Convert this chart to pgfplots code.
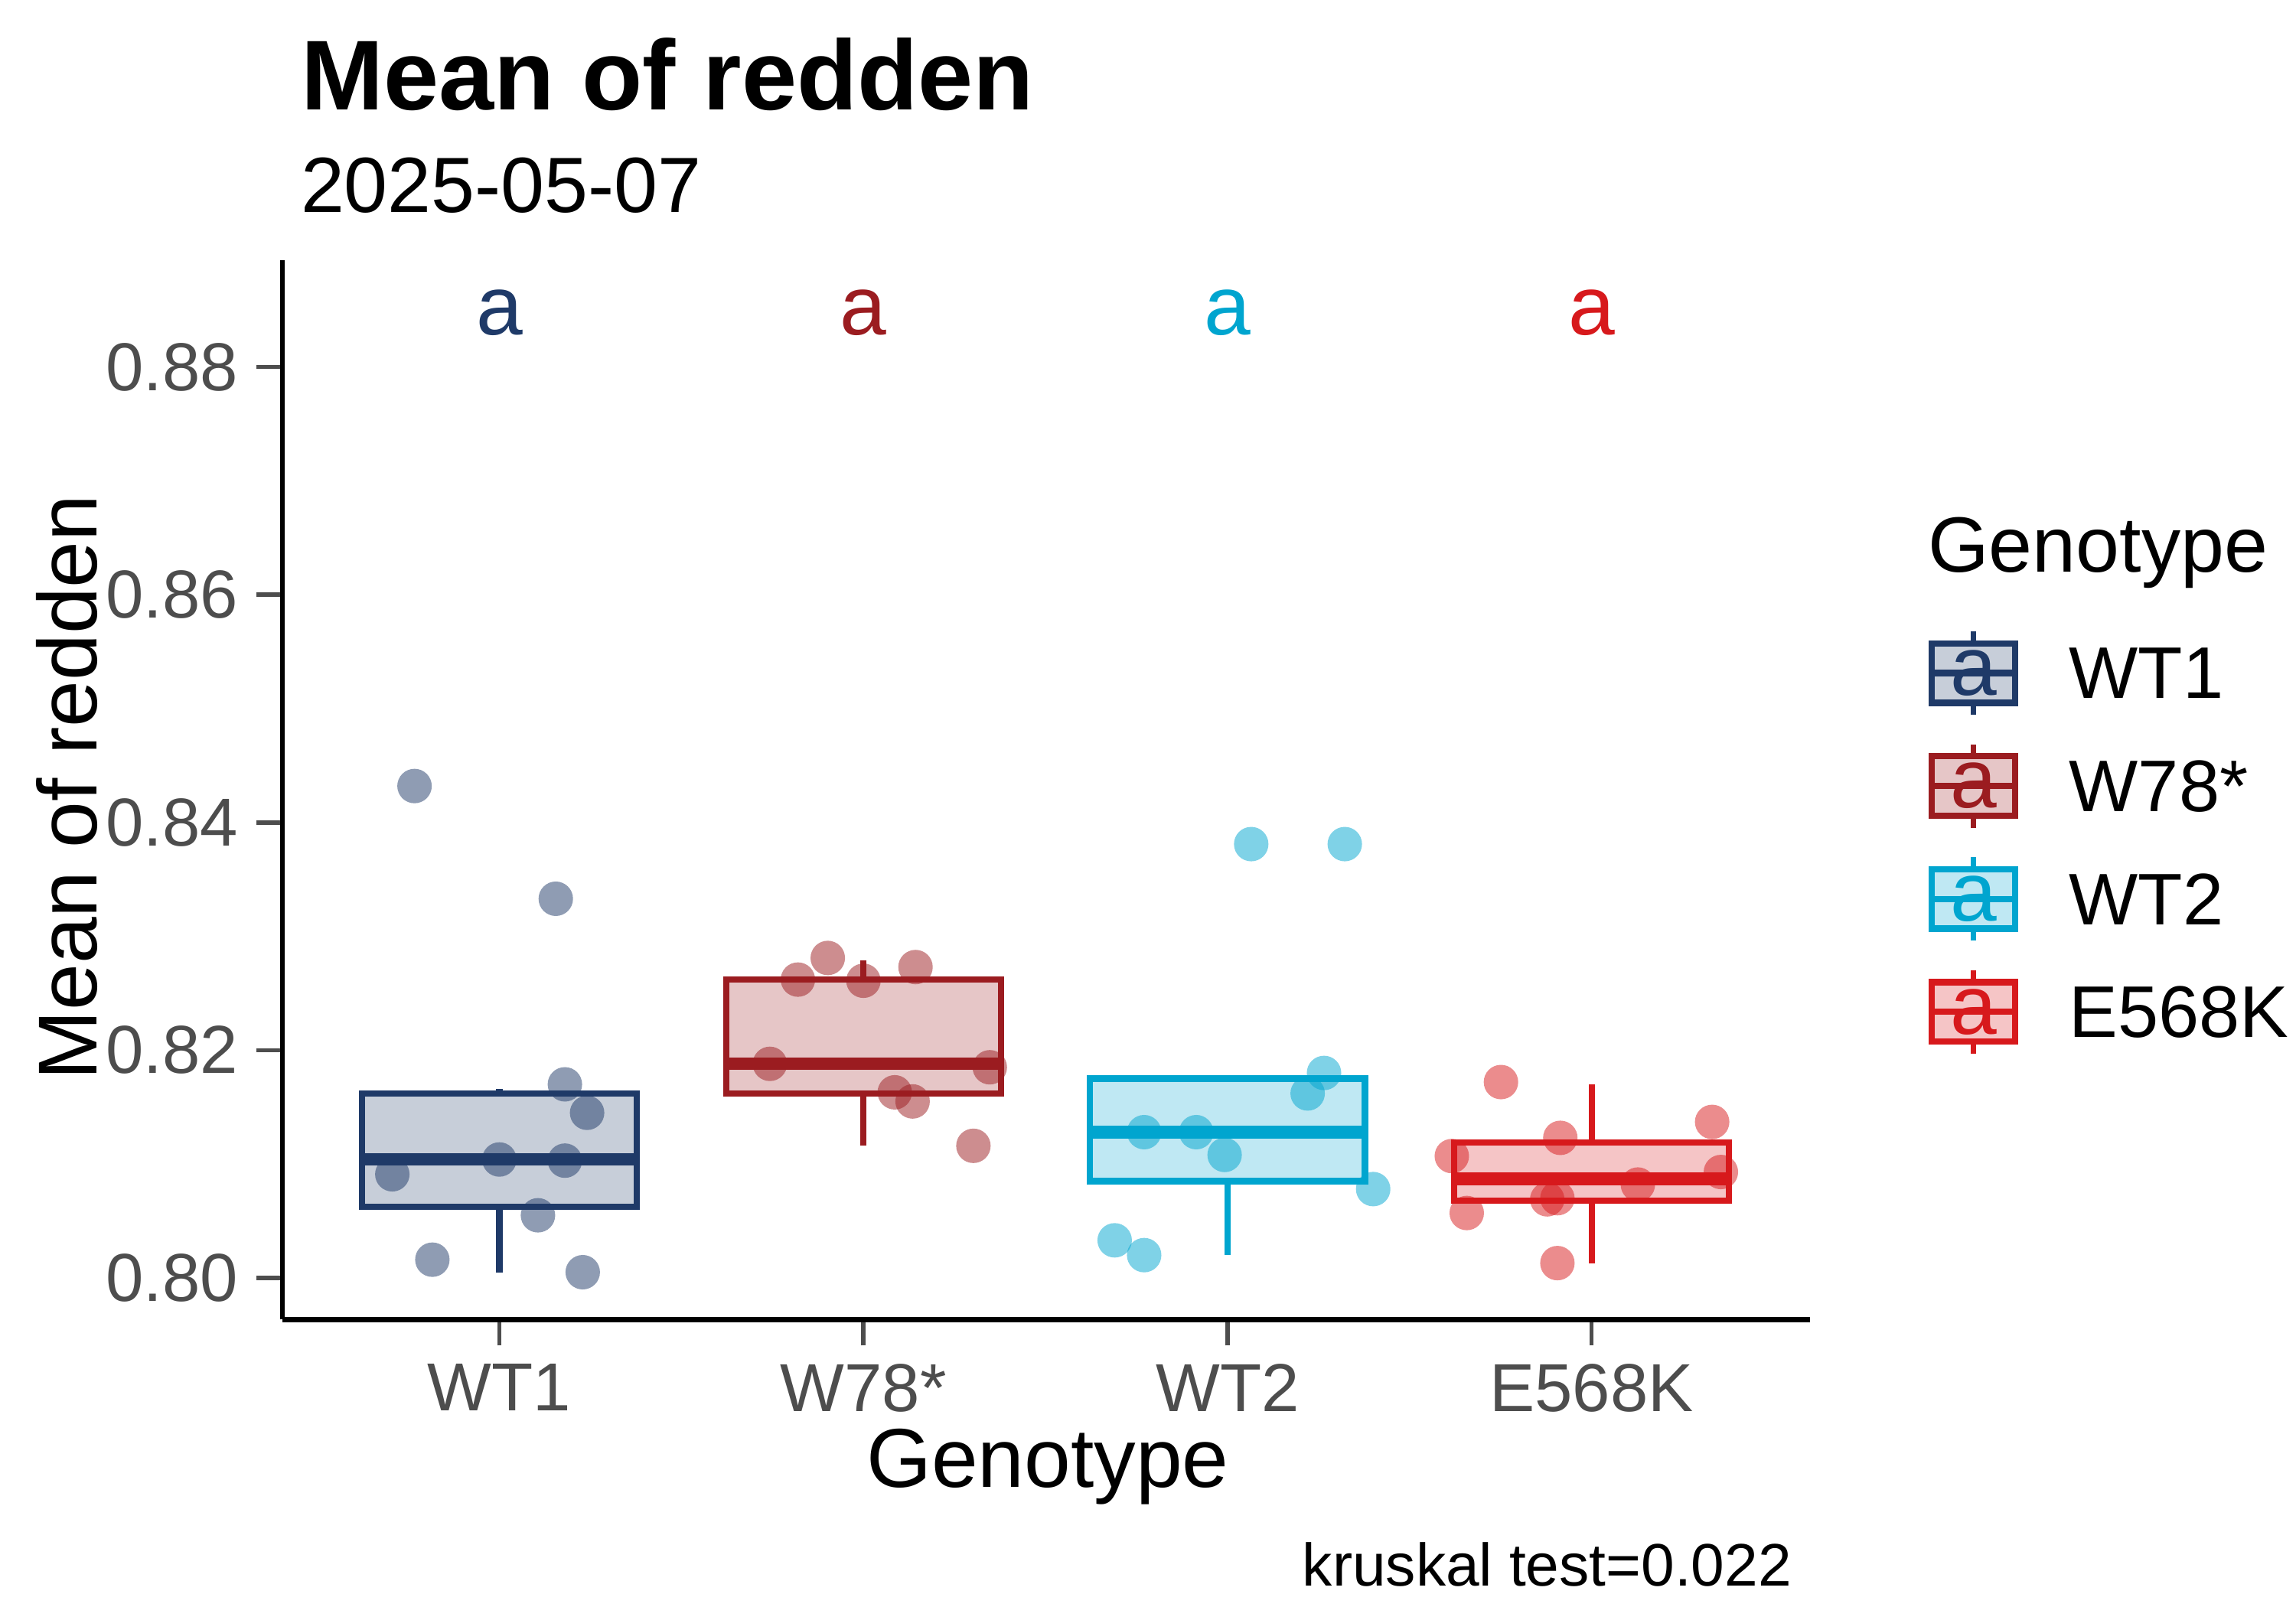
\documentclass[border=0pt]{standalone}
\usepackage{pgfplots}
\pgfplotsset{compat=1.18}
\usepgfplotslibrary{statistics}
\usepackage{fontspec}
\setmainfont{Liberation Sans}
\definecolor{c1}{HTML}{1F3A68}
\definecolor{c2}{HTML}{9B1C20}
\definecolor{c3}{HTML}{00A5CF}
\definecolor{c4}{HTML}{D7191C}
\definecolor{tk}{HTML}{4D4D4D}
\begin{document}
\begin{tikzpicture}
\path[use as bounding box] (-1.9,-1.93) rectangle (13.55,8.88);
\begin{axis}[at={(0,0)},anchor=south west,scale only axis,width=10.28cm,height=7.13cm,
 xmin=-0.596,xmax=3.6,ymin=0.79635,ymax=0.8894,
 axis x line*=bottom, axis y line*=left, axis line style={line width=1pt,-},
 xtick={0,1,2,3}, xticklabels={WT1,W78*,WT2,E568K},
 ytick={0.80,0.82,0.84,0.86,0.88},
 yticklabel style={/pgf/number format/.cd,fixed,fixed zerofill,precision=2},
 /pgf/number format/assume math mode=true,
 tick style={line width=0.8pt,tk}, tick align=outside, major tick length=5pt,
 ticklabel style={font=\fontsize{13}{15}\selectfont,text=tk},
 boxplot/draw direction=y,
 boxplot/whisker extend=0,
 boxplot/every median/.style={line width=2.4pt},
 clip=false]
\addplot[boxplot prepared={draw position=0,box extend=0.755,lower whisker=0.8005,lower quartile=0.80626,median=0.8104,upper quartile=0.8162,upper whisker=0.8166},draw=c1,fill=c1!25,line width=1.2pt] coordinates {};
\addplot[boxplot prepared={draw position=1,box extend=0.755,lower whisker=0.8116,lower quartile=0.8162,median=0.8188,upper quartile=0.8262,upper whisker=0.8279},draw=c2,fill=c2!25,line width=1.2pt] coordinates {};
\addplot[boxplot prepared={draw position=2,box extend=0.755,lower whisker=0.8020,lower quartile=0.8085,median=0.8128,upper quartile=0.8175,upper whisker=0.8177},draw=c3,fill=c3!25,line width=1.2pt] coordinates {};
\addplot[boxplot prepared={draw position=3,box extend=0.755,lower whisker=0.8013,lower quartile=0.8068,median=0.8087,upper quartile=0.8119,upper whisker=0.8170},draw=c4,fill=c4!25,line width=1.2pt] coordinates {};
\addplot[only marks,mark=*,mark size=3.3pt,c1,opacity=0.5,draw opacity=0] coordinates {(-0.233,0.8432)(0.155,0.8333)(0.18,0.8170)(0.241,0.8145)(0,0.8104)(0.18,0.8103)(-0.294,0.8091)(0.106,0.8055)(-0.184,0.8016)(0.229,0.8005)};
\addplot[only marks,mark=*,mark size=3.3pt,c2,opacity=0.5,draw opacity=0] coordinates {(0.902,0.8281)(0.820,0.8262)(1.143,0.8273)(1.0,0.8261)(0.743,0.8188)(1.347,0.8185)(1.086,0.8163)(1.135,0.8155)(1.302,0.8116)};
\addplot[only marks,mark=*,mark size=3.3pt,c3,opacity=0.5,draw opacity=0] coordinates {(2.065,0.8381)(2.322,0.8381)(2.265,0.8180)(2.220,0.8162)(1.771,0.8128)(1.914,0.8128)(1.992,0.8108)(2.4,0.8078)(1.690,0.8033)(1.771,0.8020)};
\addplot[only marks,mark=*,mark size=3.3pt,c4,opacity=0.5,draw opacity=0] coordinates {(2.751,0.8172)(3.331,0.8137)(2.616,0.8107)(2.914,0.8123)(3.355,0.8093)(3.127,0.8082)(2.906,0.8070)(2.878,0.8069)(2.657,0.8057)(2.906,0.8013)};
\node[text=c1,font=\fontsize{16}{18}\selectfont] at (axis cs:0,0.8848) {a};
\node[text=c2,font=\fontsize{16}{18}\selectfont] at (axis cs:1,0.8848) {a};
\node[text=c3,font=\fontsize{16}{18}\selectfont] at (axis cs:2,0.8848) {a};
\node[text=c4,font=\fontsize{16}{18}\selectfont] at (axis cs:3,0.8848) {a};
\end{axis}
\node[anchor=west,font=\bfseries\fontsize{19}{22}\selectfont] at (0,8.38) {Mean of redden};
\node[anchor=west,font=\fontsize{15}{18}\selectfont] at (0,7.63) {2025-05-07};
\node[rotate=90,font=\fontsize{16}{19}\selectfont] at (-1.45,3.58) {Mean of redden};
\node[font=\fontsize{16}{19}\selectfont] at (5.15,-0.99) {Genotype};
\node[anchor=east,font=\fontsize{11.5}{14}\selectfont] at (10.28,-1.65) {kruskal test=0.022};
\node[anchor=west,font=\fontsize{15}{18}\selectfont] at (10.95,5.16) {Genotype};
\foreach \c/\n/\y in {c1/WT1/4.35,c2/W78*/3.59,c3/WT2/2.83,c4/E568K/2.07}{
 \draw[\c,line width=1pt] (11.38,\y-0.28)--(11.38,\y+0.28);
 \draw[\c,line width=1.2pt,fill=\c!25] (11.1,\y-0.2) rectangle (11.66,\y+0.2);
 \draw[\c,line width=1.2pt] (11.1,\y)--(11.66,\y);
 \node[text=\c,font=\fontsize{16}{18}\selectfont] at (11.38,\y) {a};
 \node[anchor=west,font=\fontsize{14}{17}\selectfont] at (11.9,\y) {\n};
}
\end{tikzpicture}
\end{document}
